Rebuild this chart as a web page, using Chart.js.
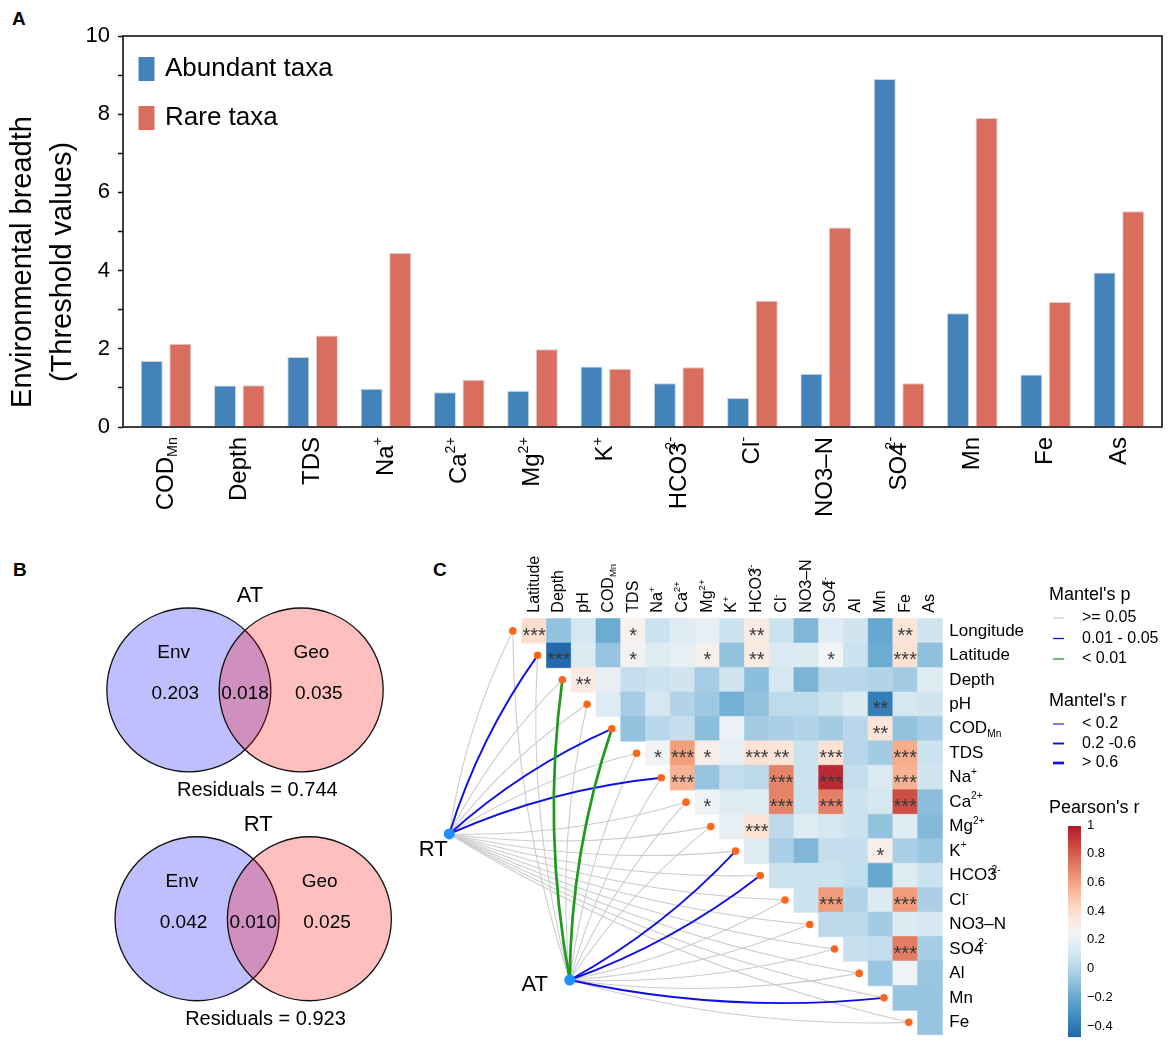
<!DOCTYPE html>
<html>
<head>
<meta charset="utf-8">
<title>Environmental breadth, variation partitioning and Mantel test</title>
<script src="https://cdn.jsdelivr.net/npm/chart.js"></script>
<style>
    body { margin: 0; background: #fff; }
    canvas { position: absolute; }
    .tag { position: absolute; font: bold 19px 'Liberation Sans', Arial, sans-serif; line-height: 1; }
</style>
</head>
<body>
<div class="tag" style="left:12px; top:9px;">A</div>
<div class="tag" style="left:13px; top:560px;">B</div>
<div class="tag" style="left:433px; top:560px;">C</div>
<canvas id="barChart" width="1170" height="530" style="left:0; top:0;"></canvas>
<canvas id="vennChart" width="420" height="483" style="left:0; top:560px;"></canvas>
<canvas id="mantelChart" width="770" height="513" style="left:400px; top:530px;"></canvas>
<script>
    // ---------- panel A: environmental breadth ----------
    const factorLabels = ['COD_{Mn}', 'Depth', 'TDS', 'Na^{+}', 'Ca^{2+}', 'Mg^{2+}', 'K^{+}', 'HCO3^{2-}',
        'Cl^{-}', 'NO3\u2013N', 'SO4^{2-}', 'Mn', 'Fe', 'As'];
    const abundantTaxa = [1.69, 1.06, 1.79, 0.98, 0.89, 0.93, 1.55, 1.12, 0.74, 1.36, 8.90, 2.91, 1.34, 3.95];
    const rareTaxa = [2.13, 1.07, 2.34, 4.45, 1.21, 1.99, 1.49, 1.53, 3.23, 5.10, 1.12, 7.90, 3.20, 5.52];

    // ---------- panel B: variation partitioning ----------
    const vennGroups = ['AT', 'RT'];
    const envOnly = [0.203, 0.042];
    const sharedPart = [0.018, 0.010];
    const geoOnly = [0.035, 0.025];
    const residualPart = [0.744, 0.923];

    // ---------- panel C: Pearson's r + Mantel ----------
    const colLabels = ['Latitude', 'Depth', 'pH', 'COD_{Mn}', 'TDS', 'Na^{+}', 'Ca^{2+}', 'Mg^{2+}', 'K^{+}',
        'HCO3^{2-}', 'Cl^{-}', 'NO3\u2013N', 'SO4^{2-}', 'Al', 'Mn', 'Fe', 'As'];
    const rowLabels = ['Longitude', 'Latitude', 'Depth', 'pH', 'COD_{Mn}', 'TDS', 'Na^{+}', 'Ca^{2+}', 'Mg^{2+}',
        'K^{+}', 'HCO3^{2-}', 'Cl^{-}', 'NO3\u2013N', 'SO4^{2-}', 'Al', 'Mn', 'Fe'];
    // row i holds the values for columns i..16
    const pearsonR = [
        [0.40, -0.08, 0.12, -0.18, 0.28, 0.08, 0.17, 0.20, 0.08, 0.32, 0.08, -0.13, 0.17, 0.10, -0.20, 0.36, 0.10],
        [-0.46, 0.15, -0.07, 0.27, 0.16, 0.20, 0.29, -0.08, 0.33, 0.14, 0.15, 0.25, 0.08, -0.18, 0.38, -0.09],
        [0.33, 0.20, 0.06, 0.08, 0.10, -0.03, 0.10, -0.10, 0.12, -0.14, 0.02, 0.02, 0.00, -0.04, 0.16],
        [0.17, -0.03, 0.12, 0.00, -0.05, -0.16, -0.08, 0.04, 0.04, 0.08, 0.15, -0.38, 0.12, 0.10],
        [-0.08, 0.02, 0.06, -0.10, 0.22, -0.04, -0.02, 0.00, -0.04, 0.02, 0.36, -0.08, -0.03],
        [0.24, 0.62, 0.31, 0.20, 0.38, 0.36, 0.08, 0.38, 0.02, -0.04, 0.58, 0.08],
        [0.56, -0.07, 0.06, 0.03, 0.70, 0.08, 0.95, 0.06, 0.14, 0.56, 0.10],
        [0.24, 0.17, 0.17, 0.70, 0.08, 0.71, 0.08, 0.12, 0.85, -0.10],
        [0.20, 0.38, 0.03, 0.16, 0.12, 0.08, -0.08, 0.17, -0.12],
        [0.16, -0.02, -0.13, 0.06, 0.06, 0.30, -0.02, -0.06],
        [0.08, 0.08, 0.08, 0.05, -0.20, 0.16, 0.08],
        [0.08, 0.63, 0.00, 0.15, 0.63, -0.02],
        [0.03, 0.03, -0.04, 0.15, 0.13],
        [0.07, 0.05, 0.72, -0.03],
        [-0.06, 0.24, -0.06],
        [-0.07, -0.07],
        [-0.07]
    ];
    const pearsonStars = [
        [3, 0, 0, 0, 1, 0, 0, 0, 0, 2, 0, 0, 0, 0, 0, 2, 0],
        [3, 0, 0, 1, 0, 0, 1, 0, 2, 0, 0, 1, 0, 0, 3, 0],
        [2, 0, 0, 0, 0, 0, 0, 0, 0, 0, 0, 0, 0, 0, 0],
        [0, 0, 0, 0, 0, 0, 0, 0, 0, 0, 0, 2, 0, 0],
        [0, 0, 0, 0, 0, 0, 0, 0, 0, 0, 2, 0, 0],
        [1, 3, 1, 0, 3, 2, 0, 3, 0, 0, 3, 0],
        [3, 0, 0, 0, 3, 0, 3, 0, 0, 3, 0],
        [1, 0, 0, 3, 0, 3, 0, 0, 3, 0],
        [0, 3, 0, 0, 0, 0, 0, 0, 0],
        [0, 0, 0, 0, 0, 1, 0, 0],
        [0, 0, 0, 0, 0, 0, 0],
        [0, 3, 0, 0, 3, 0],
        [0, 0, 0, 0, 0],
        [0, 0, 3, 0],
        [0, 0, 0],
        [0, 0],
        [0]
    ];
    const pearsonTicks = [1, 0.8, 0.6, 0.4, 0.2, 0, -0.2, -0.4];
    // Mantel classes per row: p (0 >= 0.05, 1 0.01-0.05, 2 < 0.01), r (0 < 0.2, 1 0.2-0.6, 2 > 0.6)
    const mantelSources = ['RT', 'AT'];
    const mantelP = [
        [0, 1, 0, 0, 1, 0, 1, 0, 0, 0, 0, 0, 0, 0, 0, 0, 0],
        [0, 0, 2, 0, 2, 0, 0, 0, 0, 1, 1, 0, 0, 0, 0, 1, 0]
    ];
    const mantelR = [
        [0, 1, 0, 0, 1, 0, 1, 0, 0, 0, 0, 0, 0, 0, 0, 0, 0],
        [0, 0, 2, 0, 2, 0, 0, 0, 0, 1, 1, 0, 0, 0, 0, 1, 0]
    ];

    const FONT = "'Liberation Sans', Arial, Helvetica, sans-serif";
    Chart.defaults.font.family = FONT;
    Chart.defaults.color = '#000';
    Chart.defaults.animation = false;
    Chart.defaults.events = [];
    Chart.defaults.plugins.legend.display = false;
    Chart.defaults.plugins.tooltip.enabled = false;

    // text with ^{sup} and _{sub}
    function richParts(label) {
        const parts = [];
        const re = /([_^])\{([^}]*)\}/g;
        let last = 0, m;
        while ((m = re.exec(label))) {
            if (m.index > last) parts.push({ text: label.slice(last, m.index), kind: 'base' });
            parts.push({ text: m[2], kind: m[1] === '^' ? 'sup' : 'sub' });
            last = re.lastIndex;
        }
        if (last < label.length) parts.push({ text: label.slice(last), kind: 'base' });
        return parts;
    }

    function drawRich(ctx, label, x, y, size, align, angle) {
        const parts = richParts(label);
        const sizes = parts.map(p => p.kind === 'base' ? size : size * 0.6);
        let total = 0;
        const metrics = parts.map((p, k) => {
            ctx.font = sizes[k] + 'px ' + FONT;
            const w = ctx.measureText(p.text).width;
            const kern = (p.kind === 'sup' && k > 0 && /\d$/.test(parts[k - 1].text)) ? -size * 0.3 : 0;
            total += w + kern;
            return { w, kern };
        });
        ctx.save();
        ctx.translate(x, y);
        ctx.rotate(angle || 0);
        ctx.textAlign = 'left';
        ctx.textBaseline = 'middle';
        let cx = align === 'right' ? -total : align === 'center' ? -total / 2 : 0;
        parts.forEach((p, k) => {
            ctx.font = sizes[k] + 'px ' + FONT;
            cx += metrics[k].kern;
            const dy = p.kind === 'sup' ? -size * 0.34 : p.kind === 'sub' ? size * 0.3 : 0;
            ctx.fillText(p.text, cx, dy);
            cx += metrics[k].w;
        });
        ctx.restore();
    }

    // ---------- A ----------
    const barDecor = {
        id: 'barDecor',
        afterDraw(chart) {
            const ctx = chart.ctx, area = chart.chartArea, x = chart.scales.x;
            ctx.save();
            ctx.strokeStyle = '#111';
            ctx.lineWidth = 1.6;
            ctx.strokeRect(area.left, area.top, area.right - area.left, area.bottom - area.top);
            ctx.fillStyle = '#000';
            factorLabels.forEach((lab, i) => {
                drawRich(ctx, lab, x.getPixelForValue(i), area.bottom + 10, 24, 'right', -Math.PI / 2);
            });
            // y title
            const midY = area.top + 226;
            ctx.font = '29px ' + FONT;
            ctx.textAlign = 'center';
            ctx.textBaseline = 'middle';
            [['Environmental breadth', 23], ['(Threshold values)', 63]].forEach(([t, px]) => {
                ctx.save();
                ctx.translate(px, midY);
                ctx.rotate(-Math.PI / 2);
                ctx.fillText(t, 0, 0);
                ctx.restore();
            });
            // legend
            chart.data.datasets.forEach((ds, k) => {
                const top = area.top + 21 + k * 49;
                ctx.fillStyle = ds.backgroundColor;
                ctx.fillRect(area.left + 15.5, top, 16, 24);
                ctx.fillStyle = '#000';
                ctx.textAlign = 'left';
                ctx.font = '26px ' + FONT;
                ctx.fillText(ds.label, area.left + 42, top + 12);
            });
            ctx.restore();
        }
    };

    new Chart(document.getElementById('barChart'), {
        type: 'bar',
        data: {
            datasets: [
                {
                    label: 'Abundant taxa',
                    data: abundantTaxa.map((v, i) => ({ x: i, y: v })),
                    backgroundColor: '#4383ba',
                    borderColor: 'rgba(200,205,210,0.9)',
                    borderWidth: 1,
                    categoryPercentage: 0.78,
                    barPercentage: 0.77
                },
                {
                    label: 'Rare taxa',
                    data: rareTaxa.map((v, i) => ({ x: i, y: v })),
                    backgroundColor: '#d96e5f',
                    borderColor: 'rgba(215,200,200,0.9)',
                    borderWidth: 1,
                    categoryPercentage: 0.78,
                    barPercentage: 0.77
                }
            ]
        },
        options: {
            responsive: false,
            layout: { padding: { top: 36, right: 8, left: 0, bottom: 0 } },
            scales: {
                x: {
                    type: 'linear', offset: false, min: -0.587, max: 13.588,
                    ticks: { display: false, stepSize: 1, includeBounds: false },
                    grid: { display: false },
                    border: { display: false },
                    afterFit: s => { s.height = 103; }
                },
                y: {
                    min: 0, max: 10,
                    ticks: { stepSize: 1, padding: 8, font: { size: 22 }, callback: v => v % 2 === 0 ? v : '' },
                    grid: { drawOnChartArea: false, tickLength: 5, tickColor: '#111', tickWidth: 1.5 },
                    border: { display: false },
                    afterFit: s => { s.width = 123; }
                }
            }
        },
        plugins: [barDecor]
    });

    // ---------- B ----------
    const vennRowY = [0, 2.79];
    const vennShift = [0, 0.1];
    const vennHalfGap = 0.685;
    const unitPx = chart => chart.scales.x.getPixelForValue(1) - chart.scales.x.getPixelForValue(0);

    const vennText = {
        id: 'vennText',
        afterDatasetsDraw(chart) {
            const ctx = chart.ctx, xs = chart.scales.x, ys = chart.scales.y;
            const put = (t, i, dx, dy, size) => {
                ctx.font = size + 'px ' + FONT;
                ctx.fillText(t, xs.getPixelForValue(vennShift[i] + dx), ys.getPixelForValue(vennRowY[i] + dy));
            };
            ctx.save();
            ctx.fillStyle = '#000';
            ctx.textAlign = 'center';
            ctx.textBaseline = 'middle';
            vennGroups.forEach((g, i) => {
                put(g, i, 0.06, -1.15, 22);
                put('Env', i, -0.87, -0.45, 19);
                put('Geo', i, 0.81, -0.45, 19);
                put(envOnly[i].toFixed(3), i, -0.85, 0.05, 19);
                put(sharedPart[i].toFixed(3), i, 0, 0.05, 19);
                put(geoOnly[i].toFixed(3), i, 0.9, 0.05, 19);
                put('Residuals = ' + residualPart[i].toFixed(3), i, 0.15, 1.23, 20);
            });
            ctx.restore();
        }
    };

    new Chart(document.getElementById('vennChart'), {
        type: 'scatter',
        data: {
            datasets: [
                {
                    label: 'Env',
                    order: 2,
                    data: vennGroups.map((g, i) => ({ x: vennShift[i] - vennHalfGap, y: vennRowY[i] })),
                    backgroundColor: 'rgba(0,0,255,0.25)',
                    borderColor: '#111',
                    borderWidth: 1.3,
                    pointRadius: ctx => unitPx(ctx.chart)
                },
                {
                    label: 'Geo',
                    order: 1,
                    data: vennGroups.map((g, i) => ({ x: vennShift[i] + vennHalfGap, y: vennRowY[i] })),
                    backgroundColor: 'rgba(255,0,0,0.25)',
                    borderColor: '#111',
                    borderWidth: 1.3,
                    pointRadius: ctx => unitPx(ctx.chart)
                }
            ]
        },
        options: {
            responsive: false,
            layout: { padding: 0 },
            scales: {
                x: { display: false, min: -2.988, max: 2.134 },
                y: { display: false, reverse: true, min: -1.585, max: 4.305 }
            }
        },
        plugins: [vennText]
    });

    // ---------- C ----------
    const colorStops = [
        [-0.47, [33, 102, 172]],
        [-0.3, [67, 147, 195]],
        [-0.15, [120, 178, 214]],
        [0, [178, 212, 233]],
        [0.1, [209, 229, 240]],
        [0.25, [242, 244, 246]],
        [0.32, [250, 236, 229]],
        [0.45, [252, 214, 193]],
        [0.6, [244, 165, 130]],
        [0.8, [214, 96, 77]],
        [1, [178, 24, 43]]
    ];

    function pearsonColor(v) {
        if (v <= colorStops[0][0]) return 'rgb(' + colorStops[0][1].join(',') + ')';
        for (let k = 1; k < colorStops.length; k++) {
            const [v1, c1] = colorStops[k];
            const [v0, c0] = colorStops[k - 1];
            if (v <= v1) {
                const t = (v - v0) / (v1 - v0);
                return 'rgb(' + c0.map((c, j) => Math.round(c + (c1[j] - c) * t)).join(',') + ')';
            }
        }
        return 'rgb(' + colorStops[colorStops.length - 1][1].join(',') + ')';
    }

    const cellData = [];
    pearsonR.forEach((row, i) => row.forEach((v, k) => {
        cellData.push({ x: i + k, y: i, v: v, stars: pearsonStars[i][k] });
    }));
    const nodeDx = -0.86;
    const sourcePos = [{ x: -3.43, y: 8.3 }, { x: 1.44, y: 14.27 }];
    const sourceLabelOffset = [[-16, 16], [-35, 5]];
    const pColors = ['#cccccc', '#1010e6', '#1e9a1e'];
    const rWidths = [1.1, 1.9, 2.7];

    const mantelDecor = {
        id: 'mantelDecor',
        beforeDatasetsDraw(chart) {
            const ctx = chart.ctx, xs = chart.scales.x, ys = chart.scales.y;
            const cx0 = xs.getPixelForValue(10.83), cy0 = ys.getPixelForValue(5.17);
            ctx.save();
            ctx.lineCap = 'round';
            // grey links first, coloured on top
            [0, 1, 2].forEach(level => {
                mantelSources.forEach((src, s) => {
                    rowLabels.forEach((lab, i) => {
                        if (mantelP[s][i] !== level) return;
                        const sx = xs.getPixelForValue(sourcePos[s].x), sy = ys.getPixelForValue(sourcePos[s].y);
                        const tx = xs.getPixelForValue(i + nodeDx), ty = ys.getPixelForValue(i);
                        const mx = (sx + tx) / 2, my = (sy + ty) / 2;
                        const L = Math.hypot(tx - sx, ty - sy);
                        let nx = -(ty - sy) / L, ny = (tx - sx) / L;
                        if (nx * (cx0 - mx) + ny * (cy0 - my) > 0) { nx = -nx; ny = -ny; }
                        ctx.strokeStyle = pColors[level];
                        ctx.lineWidth = level === 0 ? 1.1 : rWidths[mantelR[s][i]];
                        ctx.beginPath();
                        ctx.moveTo(sx, sy);
                        ctx.quadraticCurveTo(mx + nx * 0.08 * L, my + ny * 0.08 * L, tx, ty);
                        ctx.stroke();
                    });
                });
            });
            ctx.restore();
        },
        afterDatasetsDraw(chart) {
            const ctx = chart.ctx, xs = chart.scales.x, ys = chart.scales.y;
            const oy = 30;  // canvas starts 30px above the legend block
            ctx.save();
            // significance stars
            const cells = chart.getDatasetMeta(0).data;
            ctx.font = '20px ' + FONT;
            ctx.fillStyle = '#3a3a3a';
            ctx.textAlign = 'center';
            ctx.textBaseline = 'alphabetic';
            cellData.forEach((d, k) => {
                if (d.stars) ctx.fillText('*'.repeat(d.stars), cells[k].x, cells[k].y + 11);
            });
            ctx.fillStyle = '#000';
            // column labels
            const top = ys.getPixelForValue(-0.5);
            colLabels.forEach((lab, j) => drawRich(ctx, lab, xs.getPixelForValue(j), top - 6, 16, 'left', -Math.PI / 2));
            // row labels
            const right = xs.getPixelForValue(16.5);
            rowLabels.forEach((lab, i) => drawRich(ctx, lab, right + 7, ys.getPixelForValue(i), 17, 'left', 0));
            // source labels
            mantelSources.forEach((src, s) => {
                drawRich(ctx, src, xs.getPixelForValue(sourcePos[s].x) + sourceLabelOffset[s][0],
                    ys.getPixelForValue(sourcePos[s].y) + sourceLabelOffset[s][1], 22, 'center', 0);
            });
            // legends
            const lx = 649;
            ctx.textAlign = 'left';
            ctx.textBaseline = 'middle';
            ctx.font = '18px ' + FONT;
            ctx.fillText("Mantel's p", lx, oy + 35);
            ctx.fillText("Mantel's r", lx, oy + 141);
            ctx.fillText("Pearson's r", lx, oy + 248);
            ctx.font = '16px ' + FONT;
            ['>= 0.05', '0.01 - 0.05', '< 0.01'].forEach((t, k) => {
                const y = oy + 58 + k * 20.5;
                ctx.strokeStyle = pColors[k];
                ctx.lineWidth = 1.3;
                ctx.beginPath(); ctx.moveTo(lx + 4, y); ctx.lineTo(lx + 15, y); ctx.stroke();
                ctx.fillText(t, lx + 33, y);
            });
            ['< 0.2', '0.2 -0.6', '> 0.6'].forEach((t, k) => {
                const y = oy + 164 + k * 19.5;
                ctx.strokeStyle = pColors[1];
                ctx.lineWidth = rWidths[k];
                ctx.beginPath(); ctx.moveTo(lx + 4, y); ctx.lineTo(lx + 15, y); ctx.stroke();
                ctx.fillText(t, lx + 33, y);
            });
            // colour bar
            const barTop = oy + 266, perUnit = 143.6, vMin = colorStops[0][0];
            const barBottom = barTop + (1 - vMin) * perUnit;
            const grad = ctx.createLinearGradient(0, barBottom, 0, barTop);
            colorStops.forEach(([v]) => grad.addColorStop((v - vMin) / (1 - vMin), pearsonColor(v)));
            ctx.fillStyle = grad;
            ctx.fillRect(668, barTop, 13, barBottom - barTop);
            ctx.fillStyle = '#000';
            ctx.font = '13px ' + FONT;
            pearsonTicks.forEach(v => {
                const t = v < 0 ? '\u2212' + Math.abs(v) : String(v);
                ctx.fillText(t, 687, barTop - 1 + (1 - v) * perUnit);
            });
            ctx.restore();
        }
    };

    new Chart(document.getElementById('mantelChart'), {
        type: 'scatter',
        data: {
            datasets: [
                {
                    label: "Pearson's r",
                    data: cellData,
                    pointStyle: 'rect',
                    pointRadius: ctx => (ctx.chart.scales.x.getPixelForValue(1) - ctx.chart.scales.x.getPixelForValue(0)) / Math.SQRT2,
                    backgroundColor: ctx => pearsonColor(ctx.raw.v),
                    borderColor: ctx => pearsonColor(ctx.raw.v),
                    borderWidth: 0.6
                },
                {
                    label: 'variables',
                    data: rowLabels.map((lab, i) => ({ x: i + nodeDx, y: i })),
                    pointRadius: 3.8,
                    backgroundColor: '#ff661a',
                    borderWidth: 0
                },
                {
                    label: 'communities',
                    data: sourcePos,
                    pointRadius: 5.5,
                    backgroundColor: '#1e90ff',
                    borderWidth: 0
                }
            ]
        },
        options: {
            responsive: false,
            layout: { padding: 0 },
            scales: {
                x: { display: false, min: -5.199, max: 25.478 },
                y: { display: false, reverse: true, min: -3.9, max: 16.62 }
            }
        },
        plugins: [mantelDecor]
    });
</script>
</body>
</html>
